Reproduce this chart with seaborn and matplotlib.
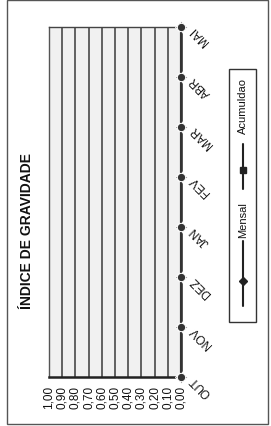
import matplotlib
matplotlib.use("Agg")
import matplotlib.pyplot as plt
import seaborn as sns
import pandas as pd
from matplotlib.patches import Rectangle
from matplotlib.lines import Line2D

# dados do gráfico (folha digitalizada, girada 90 graus)
meses = ["OUT", "NOV", "DEZ", "JAN", "FEV", "MAR", "ABR", "MAI"]
mensal = [0.0, 0.0, 0.0, 0.0, 0.0, 0.0, 0.0, 0.0]
acumulado = [0.0, 0.0, 0.0, 0.0, 0.0, 0.0, 0.0, 0.0]
valores_ticks = [1.0, 0.9, 0.8, 0.7, 0.6, 0.5, 0.4, 0.3, 0.2, 0.1, 0.0]
rotulos_ticks = ["1,00", "0,90", "0,80", "0,70", "0,60", "0,50",
                 "0,40", "0,30", "0,20", "0,10", "0,00"]
titulo = "ÍNDICE DE GRAVIDADE"
legenda = ["Mensal", "Acumuldao"]

sns.set_style("white")
plt.rcParams["font.family"] = ["Liberation Sans", "DejaVu Sans"]

W, H = 271, 427
fig = plt.figure(figsize=(W / 100, H / 100), dpi=100)


def px(x, y):
    # pixel da imagem -> fração da figura
    return x / W, 1 - y / H


ax = fig.add_axes([49 / W, 1 - 378 / H, (181 - 49) / W, (378 - 28) / H])
ax.set_facecolor("#f1f1f1")

df = pd.DataFrame({"pos": range(len(meses)), "Mensal": mensal, "Acumulado": acumulado})
sns.lineplot(data=df, x="Mensal", y="pos", orient="y", ax=ax, color="#333333",
             marker="D", markersize=6, lw=1.5, clip_on=False, zorder=5)
sns.lineplot(data=df, x="Acumulado", y="pos", orient="y", ax=ax, color="#333333",
             marker="o", markersize=6, lw=1.5, clip_on=False, zorder=5)

ax.set_xlim(1.0, 0.0)
ax.set_ylim(0, len(meses) - 1)
ax.set_xticks(valores_ticks)
ax.set_xticklabels(rotulos_ticks, rotation=90)
ax.set_yticks(range(len(meses)))
ax.set_yticklabels(meses)
ax.yaxis.tick_right()
ax.set_xlabel("")
ax.set_ylabel("")

ax.xaxis.grid(True, color="#4a4a4a", lw=1.2)
ax.yaxis.grid(False)
ax.tick_params(axis="x", length=3, color="#888888", labelsize=8.5, pad=3,
               labelcolor="#111111")
ax.tick_params(axis="y", length=0, labelsize=8.5, pad=8, labelcolor="#111111")
for lbl in ax.get_yticklabels():
    lbl.set_rotation(135)
    lbl.set_ha("right")
    lbl.set_va("center")
    lbl.set_rotation_mode("anchor")

for lado, lw, cor in [("right", 1.8, "#222222"), ("bottom", 1.8, "#222222"),
                      ("top", 1.0, "#444444"), ("left", 1.0, "#555555")]:
    ax.spines[lado].set_visible(True)
    ax.spines[lado].set_linewidth(lw)
    ax.spines[lado].set_color(cor)

# título vertical
fig.text(*px(27, 231), titulo, rotation=90, ha="center", va="center",
         fontsize=10, fontweight="bold", color="#111111")

# legenda desenhada na vertical
x0, y0 = px(229, 323)
x1, y1 = px(256, 70)
fig.patches.append(Rectangle((x0, y0), x1 - x0, y1 - y0, transform=fig.transFigure,
                             fill=False, ec="#333333", lw=1.0))
xa, _ = px(243, 0)
fig.lines.append(Line2D([xa, xa], [px(0, 307)[1], px(0, 242)[1]],
                        transform=fig.transFigure, color="#222222", lw=1.5))
fig.lines.append(Line2D([xa], [px(0, 282)[1]], transform=fig.transFigure,
                        color="#222222", marker="D", markersize=4, lw=0))
fig.text(*px(243, 220), legenda[0], rotation=90, ha="center", va="center",
         fontsize=8, color="#111111")
fig.lines.append(Line2D([xa, xa], [px(0, 190)[1], px(0, 145)[1]],
                        transform=fig.transFigure, color="#222222", lw=1.5))
fig.lines.append(Line2D([xa], [px(0, 171)[1]], transform=fig.transFigure,
                        color="#222222", marker="s", markersize=4, lw=0))
fig.text(*px(243, 106), legenda[1], rotation=90, ha="center", va="center",
         fontsize=8, color="#111111")

# moldura externa
fx0, fy0 = px(7, 425)
fx1, fy1 = px(268, 1)
fig.patches.append(Rectangle((fx0, fy0), fx1 - fx0, fy1 - fy0, transform=fig.transFigure,
                             fill=False, ec="#555555", lw=1.0))

fig.savefig("out.png", dpi=100)
